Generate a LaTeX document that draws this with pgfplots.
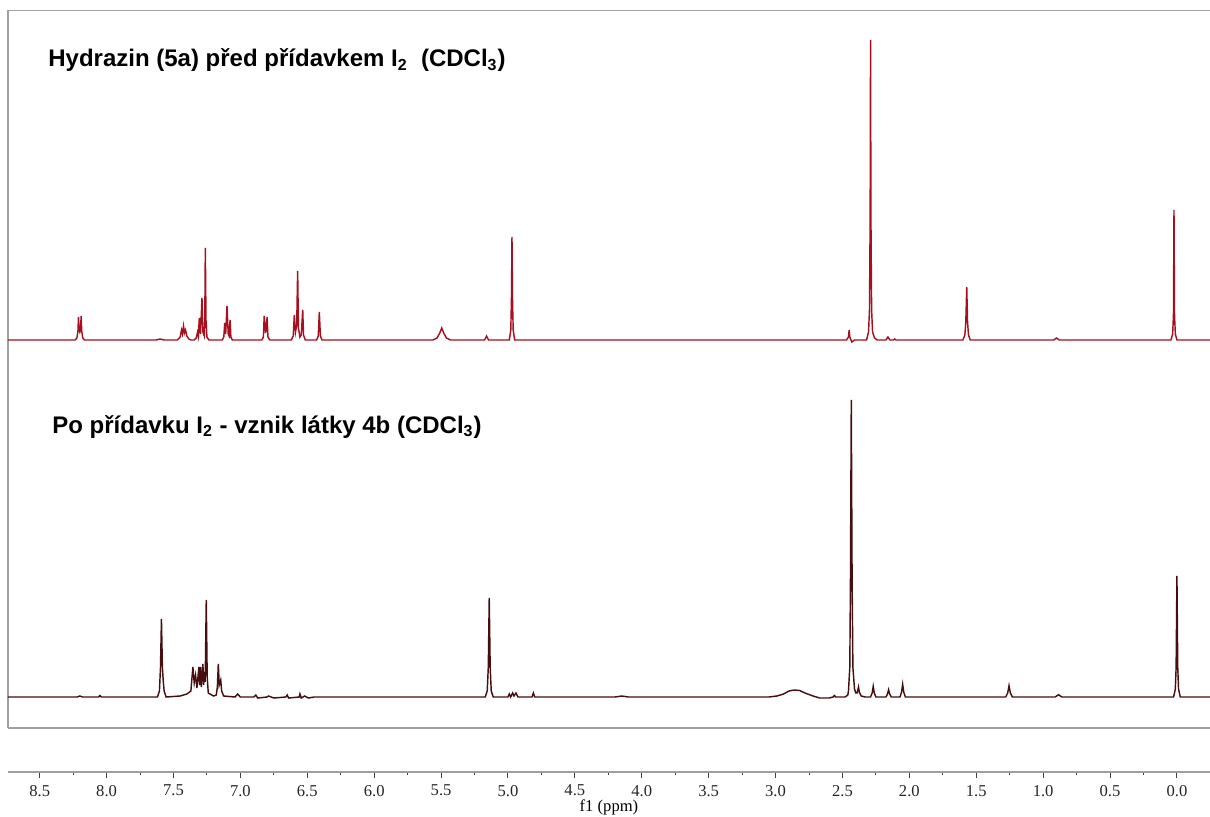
\documentclass[border=0pt]{standalone}
\usepackage{fontspec}
\setmainfont{Liberation Serif}
\newfontfamily\arialfont{Liberation Sans}
\usepackage{pgfplots}
\pgfplotsset{compat=1.18}
\definecolor{topred}{RGB}{165,15,30}
\definecolor{botbrown}{RGB}{70,14,14}
\definecolor{framegray}{RGB}{160,160,160}
\begin{document}
\begin{tikzpicture}
\path[use as bounding box] (0,0) rectangle (605pt,408pt);
\begin{axis}[
  at={(4pt,22pt)}, anchor=south west,
  scale only axis, width=601pt, height=380.65pt,
  xmin=-0.247, xmax=8.737, ymin=0, ymax=761.3,
  x dir=reverse, enlarge x limits=false,
  axis x line*=bottom, axis y line=none,
  x axis line style={-, draw=gray!75, line width=1.3pt},
  xtick={0,0.5,...,8.5}, minor x tick num=1,
  tick align=outside, major tick length=3pt, minor tick length=1.5pt,
  tick style={draw=black!75, line width=0.5pt},
  xticklabel style={font=\fontsize{8.3}{9}\selectfont, text=black!85},
  /pgf/number format/.cd, fixed, fixed zerofill, precision=1, assume math mode=true,
  /pgfplots/.cd,
  xlabel={f1 (ppm)},
  xlabel style={font=\fontsize{8.3}{9}\selectfont, inner sep=0pt, yshift=2pt},
  clip=false,
]
\draw[framegray, line width=0.6pt] (axis cs:8.737,44) -- (axis cs:8.737,761.3) -- (axis cs:-0.247,761.3);
\draw[framegray, line width=0.6pt] (axis cs:8.737,44) -- (axis cs:-0.247,44);

% top spectrum: hydrazin 5a
\addplot[topred, line width=0.72pt, y filter/.expression={y+432}] coordinates {
(8.737,0)(8.24,0)
(8.235,0)(8.222,2)(8.214,9)(8.21,23)(8.205,10)(8.2,8)(8.195,10)(8.19,24)(8.186,9)(8.178,2)(8.165,0)
(7.63,0)(7.60,1)(7.57,0)
(7.47,0)(7.45,3)(7.44,10)(7.433,6)(7.425,14)(7.418,7)(7.41,10)(7.40,4)(7.385,1)(7.37,0)
(7.345,0)(7.33,2)(7.32,8)(7.314,4)(7.307,22)(7.298,6)(7.287,42)(7.28,8)(7.275,6)(7.27,4)(7.266,20)(7.262,92)(7.257,20)(7.25,3)(7.235,0)
(7.135,0)(7.124,3)(7.117,17)(7.11,6)(7.10,34)(7.091,6)(7.084,4)(7.077,20)(7.071,3)(7.06,0)
(6.84,0)(6.828,3)(6.822,24)(6.811,7)(6.80,23)(6.794,3)(6.78,0)
(6.62,0)(6.605,4)(6.597,25)(6.588,8)(6.579,15)(6.572,69)(6.566,12)(6.555,3)(6.545,5)(6.534,30)(6.528,5)(6.515,0)
(6.43,0)(6.418,4)(6.41,28)(6.402,4)(6.39,0)
(5.56,0)(5.53,2)(5.51,7)(5.495,12)(5.48,7)(5.46,2)(5.43,0)
(5.175,0)(5.16,4)(5.145,0)
(4.99,0)(4.979,10)(4.974,40)(4.97,103)(4.966,40)(4.961,10)(4.95,0)
(2.47,0)(2.455,3)(2.45,10)(2.445,3)(2.43,-2)(2.41,0)
(2.32,0)(2.305,8)(2.298,30)(2.293,120)(2.29,300)(2.287,120)(2.282,30)(2.275,8)(2.26,2)(2.24,0)
(2.175,0)(2.16,3)(2.145,0)(2.12,0)(2.11,1)(2.10,0)
(1.60,0)(1.585,5)(1.578,18)(1.571,53)(1.565,18)(1.558,5)(1.545,0)
(0.92,0)(0.90,2)(0.88,0)
(0.045,0)(0.032,6)(0.026,25)(0.022,130)(0.018,25)(0.012,6)(0.0,0)
(-0.247,0)
};

% bottom spectrum: after I2, compound 4b
\addplot[botbrown, line width=0.72pt, y filter/.expression={y+75}] coordinates {
(8.737,0)(8.22,0)(8.20,1)(8.18,0)(8.06,0)(8.05,1.5)(8.04,0)
(7.62,0)(7.605,6)(7.597,30)(7.59,78)(7.583,30)(7.577,17)(7.57,6)(7.555,0)
(7.45,1)(7.40,3)(7.37,6)(7.355,30)(7.345,14)(7.335,22)(7.325,9)(7.31,30)(7.305,12)(7.298,30)(7.292,10)(7.28,33)(7.275,12)(7.27,25)(7.263,15)(7.255,97)(7.248,20)(7.24,4)(7.2,1)
(7.18,2)(7.172,10)(7.165,33)(7.158,12)(7.147,17)(7.14,6)(7.125,1)
(7.04,0)(7.02,3)(7.0,0)(6.9,0)(6.885,2)(6.87,-1)(6.80,0)(6.79,1)(6.75,-1)(6.66,0)(6.65,2)(6.64,-1)(6.56,0)(6.555,3)(6.545,-1)(6.52,1)(6.49,-1)(6.45,0)
(5.17,0)(5.155,6)(5.147,30)(5.14,99)(5.133,30)(5.125,6)(5.11,0)
(5.00,0)(4.99,3)(4.98,0)(4.965,4)(4.955,1)(4.94,4)(4.925,0)(4.82,0)(4.81,4)(4.80,0)
(4.2,0)(4.15,1)(4.1,0)
(3.05,0)(2.99,1)(2.94,3)(2.90,6)(2.86,7)(2.82,6.5)(2.78,4)(2.72,1)(2.67,-1)(2.6,-1)
(2.57,0)(2.56,1.5)(2.55,0)(2.48,0)(2.46,2)
(2.455,6)(2.445,30)(2.44,120)(2.434,297)(2.428,120)(2.422,30)(2.41,8)(2.40,4)(2.39,4)(2.385,7)(2.38,10)(2.374,5)(2.36,1)(2.33,0)
(2.29,0)(2.278,4)(2.27,10.7)(2.262,4)(2.25,0)
(2.175,0)(2.163,3)(2.155,7.3)(2.147,3)(2.135,0)
(2.07,0)(2.058,5)(2.05,12.7)(2.042,5)(2.03,0)
(1.28,0)(1.265,4)(1.255,11.3)(1.245,4)(1.23,0)
(0.91,0)(0.885,2.3)(0.86,0)
(0.025,0)(0.012,8)(0.006,30)(0.0,121)(-0.006,30)(-0.012,8)(-0.025,0)
(-0.247,0)
};
\end{axis}
\node[anchor=base west, inner sep=0pt, font=\arialfont\bfseries\fontsize{12}{14}\selectfont] at (24pt,374.6pt)
  {Hydrazin (5a) před přídavkem I\textsubscript{2}\ \ (CDCl\textsubscript{3})};
\node[anchor=base west, inner sep=0pt, font=\arialfont\bfseries\fontsize{12}{14}\selectfont] at (26pt,191.5pt)
  {Po přídavku I\textsubscript{2} - vznik látky 4b (CDCl\textsubscript{3})};
\end{tikzpicture}
\end{document}
